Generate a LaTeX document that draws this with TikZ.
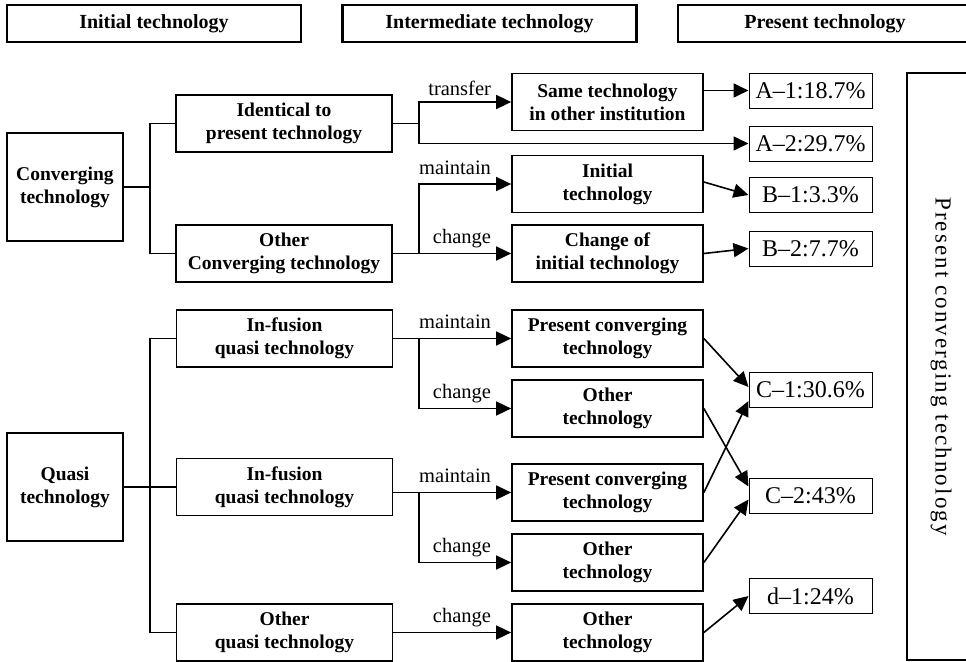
\documentclass[tikz,border=0pt]{standalone}
\usepackage{fontspec}
\setmainfont{Liberation Serif}
\usetikzlibrary{arrows.meta}

\tikzset{
  head/.style={draw, line width=2.4pt, minimum width=294pt, minimum height=37pt, inner sep=0pt,
    font=\bfseries\fontsize{20}{24}\selectfont},
  root/.style={draw, line width=2.2pt, minimum width=116pt, minimum height=108pt, inner sep=0pt,
    align=center, font=\bfseries\fontsize{19.5}{23}\selectfont},
  kind/.style={draw, line width=1.5pt, minimum width=216pt, minimum height=57pt, inner sep=0pt,
    align=center, font=\bfseries\fontsize{19.5}{23}\selectfont},
  mid/.style={draw, line width=1.7pt, minimum width=191pt, minimum height=57pt, inner sep=0pt,
    align=center, font=\bfseries\fontsize{19.5}{23}\selectfont},
  res/.style={draw, line width=1pt, minimum width=123pt, minimum height=35pt, inner sep=0pt,
    font=\fontsize{24}{28}\selectfont},
  lbl/.style={anchor=base east, inner sep=0pt, font=\fontsize{20.5}{22}\selectfont},
  ln/.style={line width=1.6pt},
  arr/.style={line width=1.6pt, -{Triangle[length=15pt,width=14pt]}}
}

\begin{document}
\begin{tikzpicture}[x=1pt,y=-1pt]
\useasboundingbox (0,0) rectangle (966,661);
% column headers
\node[head] (h1) at (154,23.5) {Initial technology};
\node[head] (h2) at (489.5,23.5) {Intermediate technology};
\node[head, minimum width=310pt] (h3) at (833,23.5) {\hspace*{-16pt}Present technology};
% initial technology
\node[root] (conv) at (65,187) {Converging\\technology};
\node[root] (quasi) at (65,487) {Quasi\\technology};
\node[kind] (ident) at (284,123.5) {Identical to\\present technology};
\node[kind] (othconv) at (284,253.5) {Other\\Converging technology};
\node[kind] (inf1) at (284.5,338.5) {In-fusion\\quasi technology};
\node[kind] (inf2) at (284.5,487) {In-fusion\\quasi technology};
\node[kind] (othquasi) at (284.5,632.5) {Other\\quasi technology};
% intermediate technology
\node[mid] (same) at (607.5,102) {Same technology\\in other institution};
\node[mid] (init) at (607.5,184) {Initial\\technology};
\node[mid] (chg) at (607.5,253.5) {Change of\\initial technology};
\node[mid] (pc1) at (607.5,338.5) {Present converging\\technology};
\node[mid] (ot1) at (607.5,408.5) {Other\\technology};
\node[mid] (pc2) at (607.5,492.5) {Present converging\\technology};
\node[mid] (ot2) at (607.5,562.5) {Other\\technology};
\node[mid] (ot3) at (607.5,632.5) {Other\\technology};
% present technology
\node[res] (A1) at (810.5,90.5) {A–1:18.7\%};
\node[res] (A2) at (810.5,143.5) {A–2:29.7\%};
\node[res] (B1) at (810.5,195) {B–1:3.3\%};
\node[res] (B2) at (810.5,248.5) {B–2:7.7\%};
\node[res] (C1) at (810.5,390) {C–1:30.6\%};
\node[res] (C2) at (810.5,495.5) {C–2:43\%};
\node[res] (d1) at (810.5,596) {d–1:24\%};
\node[draw, line width=2.4pt, minimum width=90pt, minimum height=587pt, inner sep=0pt] (pres) at (952,366.5) {};
\node[rotate=-90, inner sep=0pt, font=\fontsize{23}{26}\selectfont\addfontfeature{LetterSpace=9}]
  (prestxt) at (941,366.5) {Present converging technology};

% tree on the left
\coordinate (cj) at ([xshift=26pt]conv.east);
\coordinate (qj) at ([xshift=26pt]quasi.east);
\draw[ln] (conv.east) -- (cj);
\draw[ln] (ident.west) -| (cj) |- (othconv.west);
\draw[ln] (quasi.east) -- (inf2.west);
\draw[ln] (inf1.west) -| (qj) |- (othquasi.west);

% branches to the intermediate column
\coordinate (ij) at ([xshift=26pt]ident.east);
\coordinate (oj) at ([xshift=26pt]othconv.east);
\coordinate (fj1) at ([xshift=26pt]inf1.east);
\coordinate (fj2) at ([xshift=26pt]inf2.east |- pc2.west);
\draw[ln] (ident.east) -- (ij);
\draw[arr] (ij) |- (same.west);
\draw[arr] (ij) |- (A2.west);
\draw[ln] (othconv.east) -- (oj);
\draw[arr] (oj) |- (init.west);
\draw[arr] (oj) -- (chg.west);
\draw[arr] (inf1.east) -- (pc1.west);
\draw[arr] (fj1) |- (ot1.west);
\draw[arr] (inf2.east |- pc2.west) -- (pc2.west);
\draw[arr] (fj2) |- (ot2.west);
\draw[arr] (othquasi.east) -- (ot3.west);

\node[lbl] (ltr) at ([xshift=-20pt,yshift=7pt]same.west) {transfer};
\node[lbl] (lm1) at ([xshift=-20pt,yshift=10pt]init.west) {maintain};
\node[lbl] (lc1) at ([xshift=-20pt,yshift=10pt]chg.west) {change};
\node[lbl] (lm2) at ([xshift=-20pt,yshift=10pt]pc1.west) {maintain};
\node[lbl] (lc2) at ([xshift=-20pt,yshift=10pt]ot1.west) {change};
\node[lbl] (lm3) at ([xshift=-20pt,yshift=10pt]pc2.west) {maintain};
\node[lbl] (lc3) at ([xshift=-20pt,yshift=10pt]ot2.west) {change};
\node[lbl] (lc4) at ([xshift=-20pt,yshift=10pt]ot3.west) {change};

% into the present column
\draw[arr] (same.east |- A1.west) -- (A1.west);
\draw[arr] ([yshift=2pt]init.east) -- (B1.west);
\draw[arr] (chg.east) -- (B2.west);
\draw[arr] (pc1.east) -- ([yshift=3pt]C1.west);
\draw[arr] (ot1.east) -- ([yshift=9pt]C2.west);
\draw[arr] (pc2.east) -- ([yshift=-11pt]C1.west);
\draw[arr] (ot2.east) -- ([yshift=-4pt]C2.west);
\draw[arr] (ot3.east) -- (d1.west);
\end{tikzpicture}
\end{document}
